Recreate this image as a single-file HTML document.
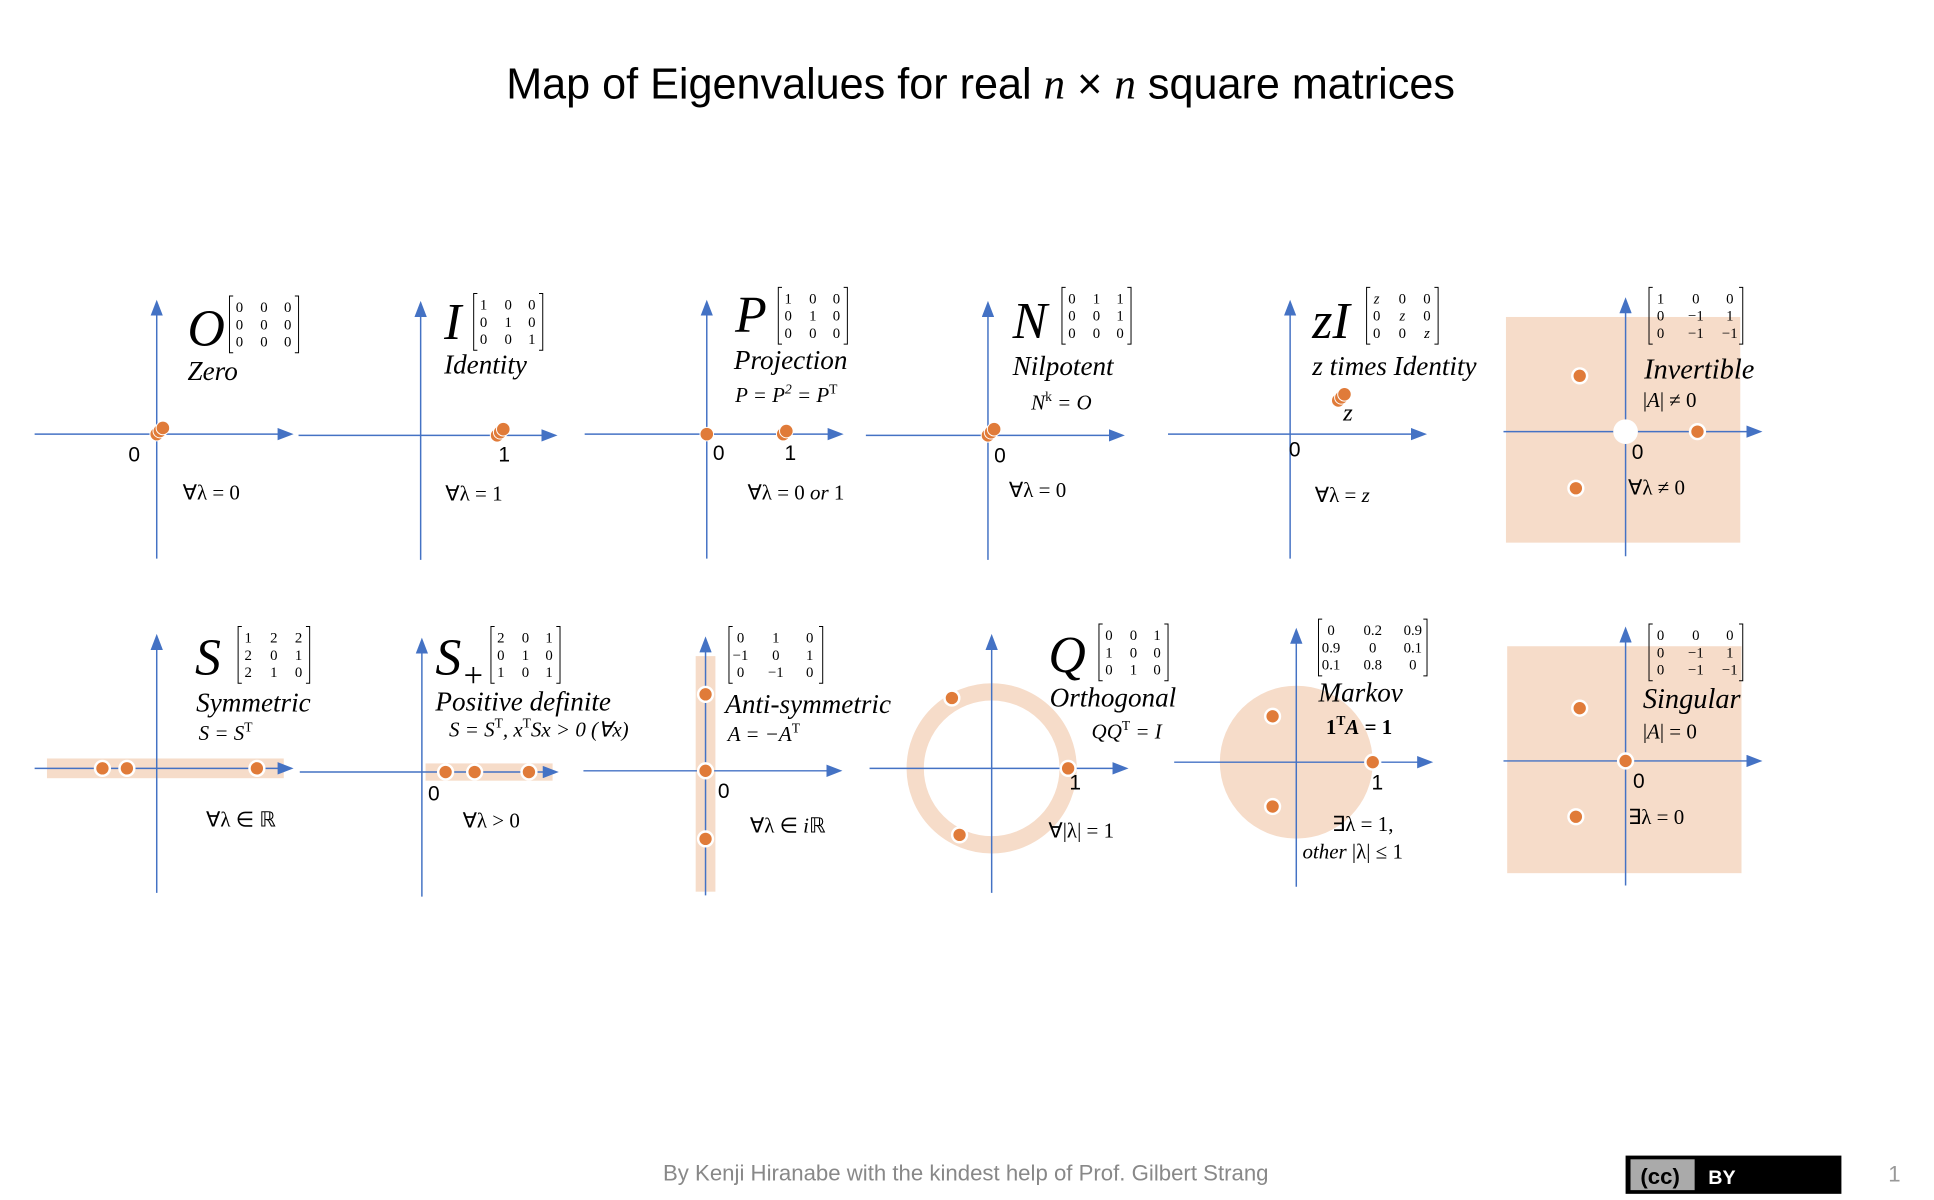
<!DOCTYPE html>
<html><head><meta charset="utf-8"><style>
html,body{margin:0;padding:0;background:#fff;}
svg{display:block;}
.lbl{font-family:"Liberation Serif",serif;font-style:italic;fill:#000;}
.sans{font-family:"Liberation Sans",sans-serif;fill:#000;}
.mx{font-family:"Liberation Serif",serif;fill:#000;}
</style></head><body>
<svg id="root" width="1934" height="1200" viewBox="0 0 1568 973" xmlns="http://www.w3.org/2000/svg">
<defs><marker id="ah" markerWidth="14" markerHeight="10" refX="8" refY="5" orient="auto" markerUnits="userSpaceOnUse"><path d="M0,0 L13,5 L0,10 Z" fill="#4472c4"/></marker></defs>
<text x="795" y="80" text-anchor="middle" class="sans" style="font-size:35px">Map of Eigenvalues for real <tspan class="lbl" font-family="Liberation Serif">n</tspan> × <tspan class="lbl" font-family="Liberation Serif">n</tspan> square matrices</text>
<g id="panels"></g>
<text x="783" y="957" text-anchor="middle" class="sans" style="fill:#888;font-size:18px">By Kenji Hiranabe with the kindest help of Prof. Gilbert Strang</text>
<g>
<rect x="1318" y="937" width="175" height="31" fill="#000"/>
<rect x="1322" y="940" width="52" height="25" fill="#aaa"/>
<text x="1330" y="960" class="sans" style="font-size:18px" font-weight="bold">(cc)</text>
<text x="1385" y="960" class="sans" style="font-size:16px;fill:#fff" font-weight="bold">BY</text>
</g>
<text x="1531" y="958" class="sans" style="fill:#999;font-size:18px">1</text>
</svg>
<script>
// eigenvalues [re, im] per panel, in axis units
const zeroEig=[[0,0],[0,0],[0,0]];
const identityEig=[[1,0],[1,0],[1,0]];
const projectionEig=[[0,0],[1,0],[1,0]];
const nilpotentEig=[[0,0],[0,0],[0,0]];
const zIEig=[[0.63,0.44],[0.63,0.44],[0.63,0.44]];
const invertibleEig=[[-0.6,0.73],[0.94,0],[-0.65,-0.74]];
const symmetricEig=[[-0.71,0],[-0.39,0],[1.31,0]];
const posdefEig=[[0.31,0],[0.69,0],[1.40,0]];
const antisymEig=[[0,1.0],[0,0],[0,-0.89]];
const orthogonalEig=[[-0.52,0.92],[-0.42,-0.87],[1,0]];
const markovEig=[[-0.31,0.6],[-0.31,-0.58],[1,0]];
const singularEig=[[-0.6,0.69],[0,0],[-0.65,-0.73]];

const NS='http://www.w3.org/2000/svg', U=62;
const G=document.getElementById('panels');
function el(tag,attrs,parent,txt){const e=document.createElementNS(NS,tag);for(const k in attrs)e.setAttribute(k,attrs[k]);if(txt!=null)e.textContent=txt;(parent||G).appendChild(e);return e;}
function txt(p,x,y,s,size,cls,name){const t=el('text',{x:x,y:y,class:cls||'lbl',style:'font-size:'+size+'px'},p);t.innerHTML=s;


return t;}
function matrix(p,x,y,w,rows,name){const g=el('g',{},p);


const h=rows.length*14+4;
el('path',{d:`M${x+4},${y} h-3 v${h} h3`,stroke:'#000',fill:'none','stroke-width':0.8},g);
el('path',{d:`M${x+w-4},${y} h3 v${h} h-3`,stroke:'#000',fill:'none','stroke-width':0.8},g);
rows.forEach((r,i)=>r.forEach((v,j)=>{const cx=x+6+(w-12)*(j+0.5)/r.length+(j==0?-(w-12)/r.length*0.3:j==r.length-1?(w-12)/r.length*0.25:0);
el('text',{x:cx,y:y+13+i*14,class:'mx',style:'font-size:12px','text-anchor':'middle','font-style':v.includes('z')?'italic':'normal'},g,v);}));}
function panel(o){const g=el('g',{});


if(o.rect){const r=el('rect',{x:o.rect[0],y:o.rect[1],width:o.rect[2]-o.rect[0],height:o.rect[3]-o.rect[1],fill:'#f6dcc9'},g);

}
if(o.disk){const c=el('circle',{cx:o.ox,cy:o.oy,r:U,fill:'#f6dcc9'},g);

}
if(o.ring){const c=el('circle',{cx:o.ox,cy:o.oy,r:U,fill:'none',stroke:'#f6dcc9','stroke-width':14},g);

}
const xa=el('line',{x1:o.ox-99,y1:o.oy,x2:o.ox+106,y2:o.oy,stroke:'#4472c4','stroke-width':1.2,'marker-end':'url(#ah)'},g);


const ya=el('line',{x1:o.ox,y1:o.oy+101,x2:o.ox,y2:o.oy-104,stroke:'#4472c4','stroke-width':1.2,'marker-end':'url(#ah)'},g);


if(o.hole){const c=el('circle',{cx:o.ox,cy:o.oy,r:10,fill:'#fff'},g);

}
const seen={};
o.eig.forEach((e,i)=>{const k=e.join(',');const n=seen[k]=(seen[k]||0)+1;const off=(n-1)*2.5;
const cx=o.ox+e[0]*U+(o.stack?off:0), cy=o.oy-e[1]*U-(o.stack?off:0);
const d=el('circle',{cx:cx,cy:cy,r:o.stack?5.5:6,fill:'#e07b39',stroke:'#fff','stroke-width':o.stack?0.8:2},g);

});
o.texts.forEach(t=>txt(g,t[0],t[1],t[2],t[3],t[4],t[5]));
if(o.mx)matrix(g,o.mx[0],o.mx[1],o.mx[2],o.mx[3],o.name+'-matrix');}

panel({name:'zero',ox:127,oy:352,eig:zeroEig,stack:true,mx:[185,240,58,[['0','0','0'],['0','0','0'],['0','0','0']]],
texts:[[104,374,'0',17,'sans','tick-zero'],[152,280,'O',42,'lbl','symbol-o'],[152,308,'Zero',22,'lbl','name-zero'],[148,405,'∀λ = 0',17,'mx','condition-zero']]});
panel({name:'identity',ox:341,oy:353,eig:identityEig,stack:true,mx:[383,238,58,[['1','0','0'],['0','1','0'],['0','0','1']]],
texts:[[404,374,'1',17,'sans','tick-one'],[360,275,'I',42,'lbl','symbol-i'],[360,303,'Identity',22,'lbl','name-identity'],[361,406,'∀λ = 1',17,'mx','condition-identity']]});
panel({name:'projection',ox:573,oy:352,eig:projectionEig,stack:true,mx:[630,233,58,[['1','0','0'],['0','1','0'],['0','0','0']]],
texts:[[578,373,'0',17,'sans','tick-zero'],[636,373,'1',17,'sans','tick-one'],[596,269,'P',42,'lbl','symbol-p'],[595,299,'Projection',22,'lbl','name-projection'],[596,326,'P = P<tspan style="font-size:11px" dy="-7">2</tspan><tspan dy="7"> = P</tspan><tspan style="font-size:11px;font-style:normal" dy="-7">T</tspan>',17,'lbl','formula-projection'],[606,405,'∀λ = 0 <tspan font-style="italic">or</tspan> 1',17,'mx','condition-projection']]});
panel({name:'nilpotent',ox:801,oy:353,eig:nilpotentEig,stack:true,mx:[860,233,58,[['0','1','1'],['0','0','1'],['0','0','0']]],
texts:[[806,375,'0',17,'sans','tick-zero'],[821,274,'N',42,'lbl','symbol-n'],[821,304,'Nilpotent',22,'lbl','name-nilpotent'],[836,332,'N<tspan style="font-size:11px;font-style:normal" dy="-7">k</tspan><tspan dy="7"> = O</tspan>',17,'lbl','formula-nilpotent'],[818,403,'∀λ = 0',17,'mx','condition-nilpotent']]});
panel({name:'z-identity',ox:1046,oy:352,eig:zIEig,stack:true,mx:[1107,233,60,[['z','0','0'],['0','z','0'],['0','0','z']]],
texts:[[1045,370,'0',17,'sans','tick-zero'],[1089,341,'z',20,'lbl','z-label'],[1064,274,'zI',42,'lbl','symbol-zi'],[1064,304,'z times Identity',22,'lbl','name-z-identity'],[1066,407,'∀λ = <tspan font-style="italic">z</tspan>',17,'mx','condition-z-identity']]});
panel({name:'invertible',ox:1318,oy:350,eig:invertibleEig,hole:true,rect:[1221,257,1411,440],mx:[1336,233,78,[['1','0','0'],['0','−1','1'],['0','−1','−1']]],
texts:[[1323,372,'0',17,'sans','tick-zero'],[1333,307,'Invertible',23,'lbl','name-invertible'],[1332,330,'|<tspan font-style="italic">A</tspan>| ≠ 0',17,'mx','formula-invertible'],[1320,401,'∀λ ≠ 0',17,'mx','condition-invertible']]});
panel({name:'symmetric',ox:127,oy:623,eig:symmetricEig,rect:[38,615,230,631],mx:[192,508,60,[['1','2','2'],['2','0','1'],['2','1','0']]],
texts:[[158,547,'S',42,'lbl','symbol-s'],[159,577,'Symmetric',22,'lbl','name-symmetric'],[161,600,'S = S<tspan style="font-size:11px;font-style:normal" dy="-7">T</tspan>',17,'lbl','formula-symmetric'],[167,670,'∀λ ∈ ℝ',17,'mx','condition-symmetric']]});
panel({name:'positive-definite',ox:342,oy:626,eig:posdefEig,rect:[345,619,448,633],mx:[397,508,58,[['2','0','1'],['0','1','0'],['1','0','1']]],
texts:[[347,649,'0',17,'sans','tick-zero'],[353,547,'S<tspan style="font-size:28px" dy="10">+</tspan>',42,'lbl','symbol-s-plus'],[353,576,'Positive definite',22,'lbl','name-positive-definite'],[364,597,'S = S<tspan style="font-size:11px;font-style:normal" dy="-7">T</tspan><tspan dy="7">, x</tspan><tspan style="font-size:11px;font-style:normal" dy="-7">T</tspan><tspan dy="7">Sx &gt; 0 (∀x)</tspan>',17,'lbl','formula-positive-definite'],[375,671,'∀λ  &gt; 0',17,'mx','condition-positive-definite']]});
panel({name:'anti-symmetric',ox:572,oy:625,eig:antisymEig,rect:[564,532,580,723],mx:[590,508,78,[['0','1','0'],['−1','0','1'],['0','−1','0']]],
texts:[[582,647,'0',17,'sans','tick-zero'],[588,578,'Anti-symmetric',22,'lbl','name-anti-symmetric'],[590,601,'A = −A<tspan style="font-size:11px;font-style:normal" dy="-7">T</tspan>',17,'lbl','formula-anti-symmetric'],[608,675,'∀λ ∈ <tspan font-style="italic">i</tspan>ℝ',17,'mx','condition-anti-symmetric']]});
panel({name:'orthogonal',ox:804,oy:623,eig:orthogonalEig,ring:true,mx:[890,506,58,[['0','0','1'],['1','0','0'],['0','1','0']]],
texts:[[867,640,'1',17,'sans','tick-one'],[850,545,'Q',42,'lbl','symbol-q'],[851,573,'Orthogonal',22,'lbl','name-orthogonal'],[885,599,'QQ<tspan style="font-size:11px;font-style:normal" dy="-7">T</tspan><tspan dy="7"> = I</tspan>',17,'lbl','formula-orthogonal'],[850,679,'∀|λ| = 1',17,'mx','condition-orthogonal']]});
panel({name:'markov',ox:1051,oy:618,eig:markovEig,disk:true,mx:[1068,502,90,[['0','0.2','0.9'],['0.9','0','0.1'],['0.1','0.8','0']]],
texts:[[1112,640,'1',17,'sans','tick-one'],[1069,569,'Markov',22,'lbl','name-markov'],[1075,595,'<tspan font-weight="bold">1<tspan style="font-size:11px" dy="-7">T</tspan><tspan dy="7" font-style="italic">A</tspan> = 1</tspan>',17,'mx','formula-markov'],[1080,674,'∃λ = 1,',17,'mx','condition-markov-1'],[1056,696,'<tspan font-style="italic">other</tspan> |λ| ≤ 1',17,'mx','condition-markov-2']]});
panel({name:'singular',ox:1318,oy:617,eig:singularEig,rect:[1222,524,1412,708],mx:[1336,506,78,[['0','0','0'],['0','−1','1'],['0','−1','−1']]],
texts:[[1324,639,'0',17,'sans','tick-zero'],[1332,574,'Singular',23,'lbl','name-singular'],[1332,599,'|<tspan font-style="italic">A</tspan>| = 0',17,'mx','formula-singular'],[1320,668,'∃λ = 0',17,'mx','condition-singular']]});
</script>
</body></html>
